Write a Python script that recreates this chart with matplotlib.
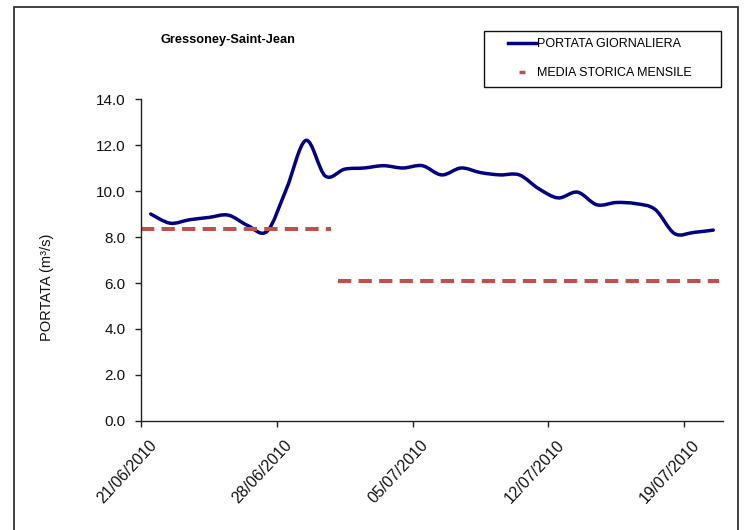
import matplotlib
matplotlib.use('Agg')
import matplotlib.pyplot as plt
import matplotlib.dates as mdates
import matplotlib.transforms as mtransforms
from matplotlib.path import Path
from matplotlib.patches import PathPatch, Rectangle
from matplotlib.lines import Line2D
import numpy as np
import pandas as pd

# daily flow, Gressoney-Saint-Jean, 21/06/2010 - 20/07/2010
giorni = pd.date_range('2010-06-21', '2010-07-20', freq='D')
portata = [9.0, 8.6, 8.75, 8.85, 8.95, 8.5, 8.25, 10.1, 12.2, 10.65,
           10.95, 11.0, 11.1, 11.0, 11.1, 10.7, 11.0, 10.8, 10.7, 10.7,
           10.1, 9.7, 9.95, 9.4, 9.5, 9.45, 9.2, 8.15, 8.2, 8.3]

# historical monthly mean
mesi = ['2010-06', '2010-07']
media_mensile = [8.35, 6.1]

tick_giorni = ['2010-06-21', '2010-06-28', '2010-07-05', '2010-07-12', '2010-07-19']

BLU = '#000080'
ROSSO = '#C0504D'
plt.rcParams['font.family'] = ['Liberation Sans', 'DejaVu Sans']

fig = plt.figure(figsize=(7.44, 5.30), dpi=100)
ax = fig.add_axes([141/744, 109/530, 582/744, 322/530])

x0 = mdates.date2num(pd.Timestamp('2010-06-21'))
x1 = mdates.date2num(pd.Timestamp('2010-07-21'))
ax.set_xlim(x0, x1)
ax.set_ylim(0, 14)

# points sit in the middle of each day (excel "between tick marks")
xs = mdates.date2num(giorni) + 0.5
ys = np.array(portata)

# smoothed line like excel: catmull-rom turned into bezier segments
verts = [(xs[0], ys[0])]
codes = [Path.MOVETO]
n = len(xs)
for i in range(n - 1):
    p0 = (xs[max(i - 1, 0)], ys[max(i - 1, 0)])
    p1 = (xs[i], ys[i])
    p2 = (xs[i + 1], ys[i + 1])
    p3 = (xs[min(i + 2, n - 1)], ys[min(i + 2, n - 1)])
    c1 = (p1[0] + (p2[0] - p0[0]) / 6, p1[1] + (p2[1] - p0[1]) / 6)
    c2 = (p2[0] - (p3[0] - p1[0]) / 6, p2[1] - (p3[1] - p1[1]) / 6)
    verts += [c1, c2, p2]
    codes += [Path.CURVE4] * 3
ax.add_patch(PathPatch(Path(verts, codes), fill=False, ec=BLU, lw=2.5,
                       capstyle='round', joinstyle='round'))

# monthly means as dashed segments
for m, val in zip(mesi, media_mensile):
    gg = giorni[giorni.strftime('%Y-%m') == m]
    a = mdates.date2num(gg[0])
    b = mdates.date2num(gg[-1]) + 1
    if a > x0:
        a += 0.18
    b -= 0.2
    ax.plot([a, b], [val, val], color=ROSSO, lw=2.9,
            linestyle=(0, (3.3, 1.8)), solid_capstyle='butt',
            dash_capstyle='butt')

ax.set_xticks(mdates.date2num(pd.to_datetime(tick_giorni)))
ax.xaxis.set_major_formatter(mdates.DateFormatter('%d/%m/%Y'))
ax.set_yticks(np.arange(0, 14.1, 2))
ax.yaxis.set_major_formatter(plt.FuncFormatter(lambda v, p: f'{v:.1f}'))

for s in ['top', 'right']:
    ax.spines[s].set_visible(False)
for s in ['left', 'bottom']:
    ax.spines[s].set_linewidth(1.0)
    ax.spines[s].set_color('#222222')
ax.tick_params(direction='out', length=4, width=1.0, color='#222222',
               labelcolor='#111111')
ax.tick_params(axis='y', pad=7, labelsize=11)
ax.tick_params(axis='x', pad=6, labelsize=11.5)
shift = mtransforms.ScaledTranslation(0.13, -0.08, fig.dpi_scale_trans)
for lab in ax.get_xticklabels():
    lab.set_rotation(47)
    lab.set_ha('right')
    lab.set_va('center')
    lab.set_rotation_mode('anchor')
    lab.set_transform(lab.get_transform() + shift)

fig.text(228/744, 1 - 40/530, 'Gressoney-Saint-Jean', ha='center',
         va='center', fontsize=9.2, fontweight='bold')
fig.text(47/744, 1 - 287/530, 'PORTATA (m³/s)', rotation=90, ha='center',
         va='center', fontsize=10.5, color='#111111')

# legend, frame drawn separately so the padding matches
handles = [Line2D([], [], color=BLU, lw=2.5),
           Line2D([], [], color=ROSSO, lw=0, marker='_', markersize=5,
                  markeredgewidth=2.5)]
leg = fig.legend(handles, ['PORTATA GIORNALIERA', 'MEDIA STORICA MENSILE'],
                 loc='upper left', bbox_to_anchor=(508/744, 1 - 38/530),
                 prop={'size': 9}, frameon=False,
                 handlelength=2.2, handletextpad=0.1,
                 labelspacing=1.4, borderpad=0, borderaxespad=0)
fig.add_artist(Rectangle((484/744, 1 - 87/530), (721 - 484)/744, 56/530,
                         transform=fig.transFigure, fill=False,
                         ec='#111111', lw=1.0))

# outer chart border
fig.add_artist(Rectangle((14/744, -0.05), (738 - 14)/744, 0.05 + (530 - 7)/530,
                         transform=fig.transFigure, fill=False,
                         ec='#333333', lw=1.3, clip_on=False))

fig.savefig('out.png', dpi=100)
